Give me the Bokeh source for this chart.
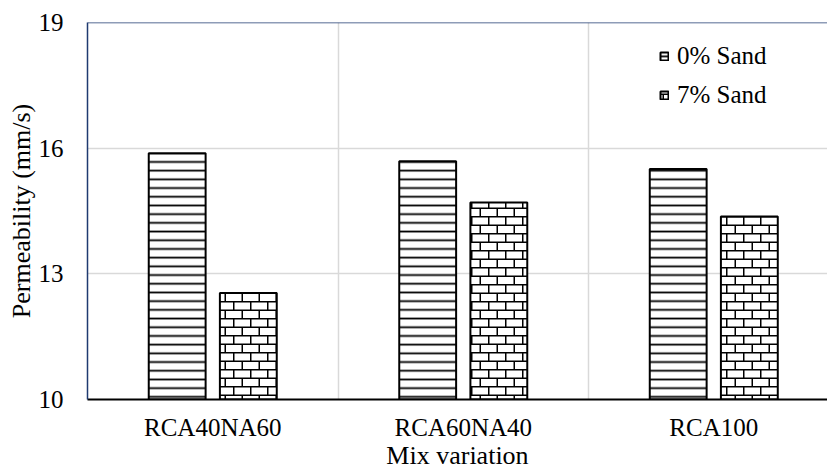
import base64
from bokeh.plotting import figure
from bokeh.models import Range1d, FixedTicker, Span, ImageURLTexture, ColumnDataSource
from bokeh.core.properties import value
from bokeh.embed import file_html
from bokeh.resources import INLINE

categories = ["RCA40NA60", "RCA60NA40", "RCA100"]
sand0 = [15.88, 15.69, 15.50]
sand7 = [12.54, 14.70, 14.37]
y_ticks = [10, 13, 16, 19]
series_labels = ["0% Sand", "7% Sand"]

FONT = "Liberation Serif"
NAVY = "#1f3a70"
GRID = "#d9d9d9"

centers = [i + 0.5 for i in range(len(categories))]
offset = 0.142
bar_w = 0.227

src0 = ColumnDataSource(dict(x=[c - offset for c in centers], top=sand0))
src7 = ColumnDataSource(dict(x=[c + offset for c in centers], top=sand7))

tile = ("<svg xmlns='http://www.w3.org/2000/svg' width='17' height='17'>"
        "<rect width='17' height='17' fill='white'/>"
        "<path d='M0 4.25H17M0 12.75H17M4.25 4.25V12.75M12.75 12.75V17M12.75 0V4.25' "
        "stroke='black' stroke-width='1.5' fill='none'/></svg>")
brick_url = "data:image/svg+xml;base64," + base64.b64encode(tile.encode()).decode()
brick = ImageURLTexture(url=brick_url)

p = figure(width=827, height=474, output_backend="svg", toolbar_location=None,
           x_range=Range1d(0, 2.954), y_range=Range1d(10, 19),
           min_border_left=87, min_border_right=0, min_border_top=22, min_border_bottom=75)
p.outline_line_color = None
p.background_fill_color = "white"
p.border_fill_color = "white"

p.vbar(x="x", top="top", bottom=10, width=bar_w, source=src0,
       fill_color="white", line_color="black", line_width=2,
       hatch_pattern="horizontal_line",
       hatch_color="black", hatch_scale=8.7, hatch_weight=1.8,
       legend_label=series_labels[0])
p.vbar(x="x", top="top", bottom=10, width=bar_w, source=src7,
       fill_color="white", line_color="black", line_width=2,
       hatch_pattern=value("brick"), hatch_extra={"brick": brick},
       hatch_color="black", hatch_scale=17, hatch_weight=1.5,
       legend_label=series_labels[1])

p.add_layout(Span(location=y_ticks[-1], dimension="width", line_color=NAVY, line_width=1.5))

# axes
p.xaxis.ticker = FixedTicker(ticks=centers)
p.xaxis.major_label_overrides = {c: name for c, name in zip(centers, categories)}
p.xaxis.axis_label = "Mix variation"
p.xaxis.axis_line_color = "black"
p.xaxis.axis_line_width = 2
p.xaxis.major_tick_line_color = None
p.xaxis.minor_tick_line_color = None
p.xaxis.major_tick_out = 0
p.xaxis.major_label_standoff = 14
p.xaxis.axis_label_standoff = -3

p.yaxis.ticker = FixedTicker(ticks=y_ticks)
p.yaxis.axis_label = "Permeability (mm/s)"
p.yaxis.axis_line_color = NAVY
p.yaxis.axis_line_width = 1.5
p.yaxis.major_tick_line_color = None
p.yaxis.minor_tick_line_color = None
p.yaxis.major_tick_out = 0
p.yaxis.major_label_standoff = 24
p.yaxis.axis_label_standoff = 0

for ax in (p.xaxis, p.yaxis):
    ax.major_label_text_color = "black"
    ax.major_label_text_font = FONT
    ax.major_label_text_font_style = "normal"
    ax.major_label_text_font_size = "25px"
    ax.axis_label_text_font = FONT
    ax.axis_label_text_font_size = "26px"
    ax.axis_label_text_font_style = "normal"
    ax.axis_label_text_color = "black"

p.xgrid.ticker = FixedTicker(ticks=[1, 2])
p.xgrid.grid_line_color = GRID
p.xgrid.grid_line_width = 1.5
p.ygrid.ticker = FixedTicker(ticks=y_ticks)
p.ygrid.grid_line_color = GRID
p.ygrid.grid_line_width = 1.5

lg = p.legend[0]
lg.location = (572, 290)
lg.margin = 0
lg.padding = 0
lg.spacing = 11
lg.glyph_width = 10
lg.glyph_height = 10
lg.label_standoff = 8
lg.label_text_font = FONT
lg.label_text_font_style = "normal"
lg.label_text_font_size = "25px"
lg.label_text_color = "black"
lg.background_fill_alpha = 0
lg.border_line_color = None

open("out.html", "w").write(file_html(p, INLINE))
